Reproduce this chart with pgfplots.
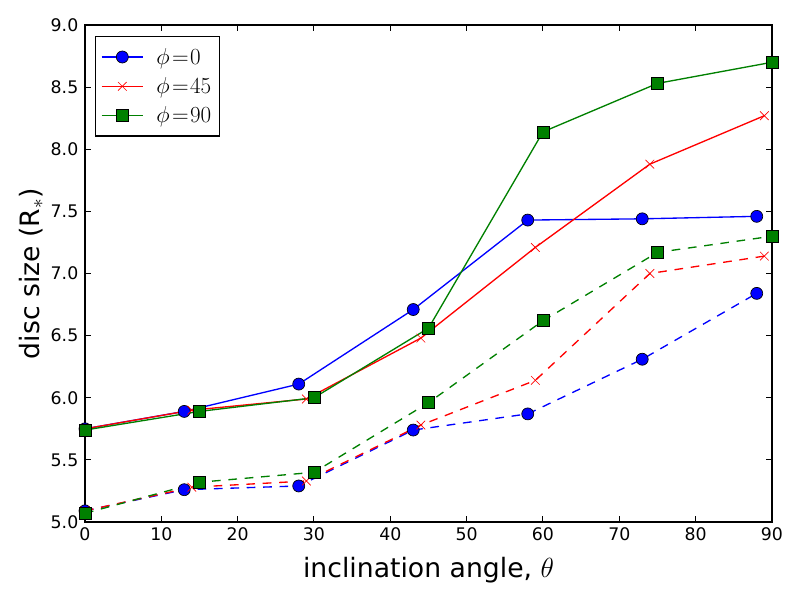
\documentclass[border=0pt]{standalone}
\usepackage{pgfplots}
\pgfplotsset{compat=1.18}
\usepackage{fontspec}
\setmainfont{DejaVu Sans}
\definecolor{mgreen}{rgb}{0,0.5,0}
\begin{document}
\begin{tikzpicture}
\path[use as bounding box] (-63.75pt,-58.5pt) rectangle (536.25pt,391.5pt);
\begin{axis}[
  scale only axis, width=515.25pt, height=372.75pt,
  xmin=0, xmax=90, ymin=5, ymax=9,
  xtick={0,10,20,30,40,50,60,70,80,90},
  ytick={5,5.5,6,6.5,7,7.5,8,8.5,9},
  /pgf/number format/assume math mode=true,
  yticklabel style={/pgf/number format/fixed, /pgf/number format/fixed zerofill, /pgf/number format/precision=1},
  tick label style={font=\fontsize{13}{15}\selectfont},
  xticklabel style={yshift=-1pt},
  yticklabel style={xshift=-1.5pt},
  major tick length=4.2pt,
  tick style={black, line width=0.75pt},
  axis line style={line width=1pt},
  xlabel={inclination angle, $\theta$},
  ylabel={disc size (R$_*$)},
  label style={font=\fontsize{20}{24}\selectfont},
  xlabel style={at={(axis description cs:0.5,-0.0966)}, anchor=center},
  ylabel style={at={(axis description cs:-0.0786,0.5)}, anchor=center},
  legend style={at={(axis description cs:0,1)}, anchor=north west, xshift=7.5pt, yshift=-8.25pt,
    draw=black, line width=1pt, font=\fontsize{16.5}{19}\selectfont, row sep=4.5pt,
    inner xsep=4pt, inner ysep=6.5pt},
  legend cell align=left,
  legend image code/.code={\draw[mark repeat=2,mark phase=2] plot coordinates {(0pt,0pt) (15.5pt,0pt) (31pt,0pt)};
    \path[draw=none, fill=none] (0pt,0pt) -- (39pt,0pt);},
]
% solid
\addplot[blue, line width=1pt, mark=*, mark size=4.5pt, mark options={fill=blue, draw=black, line width=0.5pt}]
  coordinates {(0,5.75) (13,5.89) (28,6.11) (43,6.71) (58,7.43) (73,7.44) (88,7.46)};
\addlegendentry{$\phi\mkern2mu{=}\mkern1mu0$}
\addplot[red, line width=1pt, mark=x, mark size=4.6pt, mark options={line width=0.5pt}]
  coordinates {(0,5.75) (14,5.90) (29,5.99) (44,6.48) (59,7.21) (74,7.88) (89,8.27)};
\addlegendentry{$\phi\mkern2mu{=}\mkern1mu45$}
\addplot[mgreen, line width=1pt, mark=square*, mark size=4.5pt, mark options={fill=mgreen, draw=black, line width=0.5pt}]
  coordinates {(0,5.74) (15,5.89) (30,6.00) (45,6.56) (60,8.14) (75,8.53) (90,8.70)};
\addlegendentry{$\phi\mkern2mu{=}\mkern1mu90$}
% dashed
\addplot[blue, line width=1pt, dash pattern=on 6.5pt off 5.8pt, mark=*, mark size=4.5pt, mark options={solid, fill=blue, draw=black, line width=0.5pt}, forget plot]
  coordinates {(0,5.09) (13,5.26) (28,5.29) (43,5.74) (58,5.87) (73,6.31) (88,6.84)};
\addplot[red, line width=1pt, dash pattern=on 6.5pt off 5.8pt, mark=x, mark size=4.6pt, mark options={solid, line width=0.5pt}, forget plot]
  coordinates {(0,5.09) (14,5.28) (29,5.33) (44,5.78) (59,6.14) (74,7.00) (89,7.14)};
\addplot[mgreen, line width=1pt, dash pattern=on 6.5pt off 5.8pt, mark=square*, mark size=4.5pt, mark options={solid, fill=mgreen, draw=black, line width=0.5pt}, forget plot]
  coordinates {(0,5.07) (15,5.32) (30,5.40) (45,5.96) (60,6.62) (75,7.17) (90,7.30)};
\end{axis}
\end{tikzpicture}
\end{document}
